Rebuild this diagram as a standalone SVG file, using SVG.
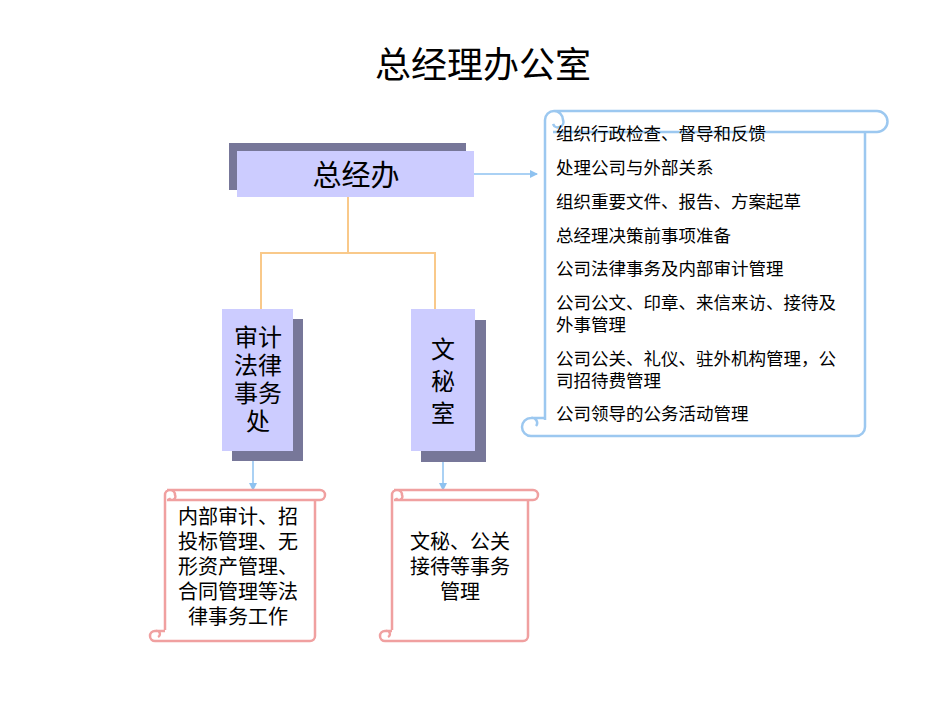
<svg xmlns="http://www.w3.org/2000/svg" width="950" height="713" viewBox="0 0 950 713">
<style>
text{font-family:"Liberation Sans","Noto Sans CJK SC",sans-serif;fill:#000}
.t{font-size:36px}
.b{font-size:24px;text-anchor:middle}
.s{font-size:17.5px}
.p{font-size:20px;text-anchor:middle}
.bs{fill:none;stroke:#9cc8f0;stroke-width:2.5}
.ps{fill:none;stroke:#f0a0a0;stroke-width:2.5}
.sh{fill:#777799}
.fr{fill:#ccccff}
.c{fill:none;stroke:#f9c98a;stroke-width:2}
.a{fill:none;stroke:#8ec2f0;stroke-width:1.5}
</style>
<defs><marker id="m" markerWidth="8" markerHeight="8" refX="7" refY="4" orient="auto" markerUnits="userSpaceOnUse"><path d="M0,0 L8,4 L0,8 Z" fill="#8ec2f0"/></marker></defs>
<text class="t" x="483" y="78" text-anchor="middle">总经理办公室</text>
<g id="connectors">
<path class="c" d="M348,197 V253 M261,309 V253 H435 V309"/>
<path class="a" d="M474,174 H537" marker-end="url(#m)"/>
<path class="a" d="M253,451 V490" marker-end="url(#m)"/>
<path class="a" d="M443,451 V490" marker-end="url(#m)"/>
</g>
<g id="zjb"><rect class="sh" x="229" y="143" width="237" height="47"/><rect class="fr" x="237" y="151" width="237" height="46"/><text x="356" y="186" class="b" style="font-size:29px">总经办</text></g>
<g id="sj"><rect class="sh" x="232" y="319" width="71" height="142"/><rect class="fr" x="222" y="309" width="71" height="142"/>
<text class="b" x="258" y="346">审计</text><text class="b" x="258" y="374">法律</text><text class="b" x="258" y="402">事务</text><text class="b" x="258" y="430">处</text></g>
<g id="wm"><rect class="sh" x="421" y="320" width="65" height="142"/><rect class="fr" x="411" y="309" width="64" height="142"/>
<text class="b" x="443" y="358">文</text><text class="b" x="443" y="390">秘</text><text class="b" x="443" y="422">室</text></g>
<g id="list">
<path class="bs" d="M545,420 V120 M545,120 A9,9 0 0 1 563,120 A5,5 0 0 1 553,124 M554,111 H877 A10.5,10.5 0 0 1 877,132 H553 M865,132 V427 A9,9 0 0 1 856,436 H531 A9,9 0 0 1 531,418 H545 M531,418 A5,5 0 0 1 536,426"/>
<text class="s" x="556" y="140">组织行政检查、督导和反馈</text>
<text class="s" x="556" y="174">处理公司与外部关系</text>
<text class="s" x="556" y="208">组织重要文件、报告、方案起草</text>
<text class="s" x="556" y="242">总经理决策前事项准备</text>
<text class="s" x="556" y="275">公司法律事务及内部审计管理</text>
<text class="s" x="556" y="309">公司公文、印章、来信来访、接待及</text>
<text class="s" x="556" y="331">外事管理</text>
<text class="s" x="556" y="365">公司公关、礼仪、驻外机构管理，公</text>
<text class="s" x="556" y="387">司招待费管理</text>
<text class="s" x="556" y="420">公司领导的公务活动管理</text>
</g>
<g id="n1">
<path class="ps" d="M165,630 V495 M165,495 A5,5 0 0 1 175,495 A3,3 0 0 1 169,498 M167,490 H320 A5,5 0 0 1 320,500 H167 M315,500 V636 A5,5 0 0 1 310,641 H155 A5,5 0 0 1 155,631 H165 M155,631 A3,3 0 0 1 158,637"/>
<text class="p" x="238" y="524">内部审计、招</text><text class="p" x="238" y="549">投标管理、无</text><text class="p" x="238" y="574">形资产管理、</text><text class="p" x="238" y="599">合同管理等法</text><text class="p" x="238" y="624">律事务工作</text>
</g>
<g id="n2">
<path class="ps" d="M392,630 V495 M392,495 A5,5 0 0 1 402,495 A3,3 0 0 1 396,498 M394,490 H533 A5,5 0 0 1 533,500 H394 M528,500 V636 A5,5 0 0 1 523,641 H385 A5,5 0 0 1 385,631 H392 M385,631 A3,3 0 0 1 388,637"/>
<text class="p" x="460" y="549">文秘、公关</text><text class="p" x="460" y="574">接待等事务</text><text class="p" x="460" y="599">管理</text>
</g>
</svg>
